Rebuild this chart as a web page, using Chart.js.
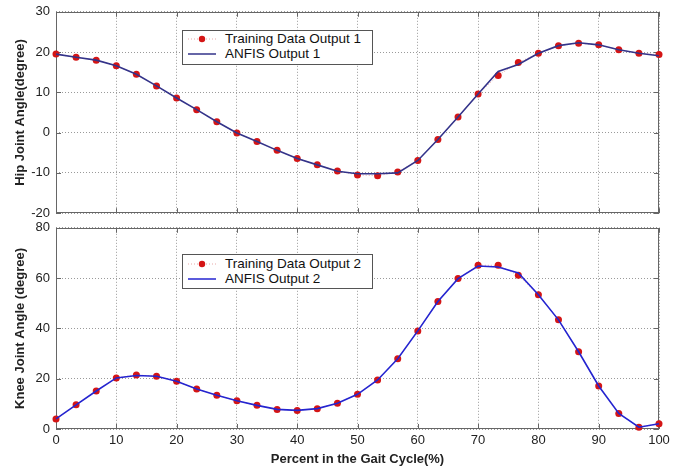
<!DOCTYPE html>
<html>
<head>
<meta charset="UTF-8">
<title>Hip and Knee Joint Angle</title>
<script src="https://cdn.jsdelivr.net/npm/chart.js"></script>
<style>
    body { margin: 0; background: #fff; width: 680px; height: 468px; overflow: hidden; position: relative;
           font-family: "Liberation Sans", Arial, sans-serif; }
    .panel { position: absolute; left: 0; width: 680px; }
    #topPanel { top: -2px; height: 229px; }
    #botPanel { top: 214px; height: 254px; }
    .legend { position: absolute; left: 182px; width: 189px; height: 33px; border: 1px solid #555;
              background: #fff; font-size: 13.5px; color: #111; }
    .legend .row { position: absolute; left: 0; height: 16px; line-height: 16px; white-space: nowrap; }
    .legend svg { position: absolute; left: 4px; top: 0; }
    .legend span { position: absolute; left: 42px; top: 0; }
</style>
</head>
<body>
<div class="panel" id="topPanel"><canvas id="hipChart"></canvas></div>
<div class="panel" id="botPanel"><canvas id="kneeChart"></canvas></div>

<div class="legend" style="top:30px">
    <div class="row" style="top:0px">
        <svg width="30" height="16"><line x1="1" y1="8" x2="29" y2="8" stroke="#e8a8a8" stroke-dasharray="1,2"/><circle cx="15" cy="8" r="3.2" fill="#d41515"/></svg>
        <span>Training Data Output 1</span>
    </div>
    <div class="row" style="top:15px">
        <svg width="30" height="16"><line x1="1" y1="8" x2="29" y2="8" stroke="#33338a" stroke-width="1.5"/></svg>
        <span>ANFIS Output 1</span>
    </div>
</div>
<div class="legend" style="top:254px">
    <div class="row" style="top:1px">
        <svg width="30" height="16"><line x1="1" y1="8" x2="29" y2="8" stroke="#e8a8a8" stroke-dasharray="1,2"/><circle cx="15" cy="8" r="3.2" fill="#d41515"/></svg>
        <span>Training Data Output 2</span>
    </div>
    <div class="row" style="top:16px">
        <svg width="30" height="16"><line x1="1" y1="8" x2="29" y2="8" stroke="#2424d0" stroke-width="1.5"/></svg>
        <span>ANFIS Output 2</span>
    </div>
</div>

<script>
// percent of gait cycle (31 samples)
const percent = [0, 3.33, 6.67, 10, 13.33, 16.67, 20, 23.33, 26.67, 30, 33.33, 36.67, 40, 43.33, 46.67,
                 50, 53.33, 56.67, 60, 63.33, 66.67, 70, 73.33, 76.67, 80, 83.33, 86.67, 90, 93.33, 96.67, 100];

const hipTraining = [19.5, 18.7, 18.0, 16.6, 14.5, 11.6, 8.6, 5.7, 2.7, -0.1, -2.2, -4.4, -6.4, -8.0, -9.5,
                     -10.5, -10.7, -9.8, -6.9, -1.7, 3.9, 9.6, 14.2, 17.4, 19.7, 21.6, 22.2, 21.8, 20.6, 19.7, 19.4];
const hipAnfis = [19.5, 18.7, 18.0, 16.6, 14.5, 11.6, 8.6, 5.7, 2.7, -0.1, -2.2, -4.4, -6.4, -8.0, -9.6,
                  -10.2, -10.2, -10.0, -6.9, -1.7, 3.9, 9.6, 15.2, 16.9, 19.7, 21.6, 22.3, 21.8, 20.6, 19.7, 19.1];

const kneeTraining = [4.0, 9.6, 15.1, 20.3, 21.5, 21.0, 19.0, 15.9, 13.4, 11.2, 9.4, 7.8, 7.4, 8.1, 10.2,
                      13.8, 19.5, 27.9, 39.0, 50.7, 59.8, 65.1, 65.1, 61.1, 53.4, 43.4, 30.7, 17.1, 6.2, 0.7, 2.1];
const kneeAnfis = [4.0, 9.6, 15.1, 20.3, 21.3, 21.0, 19.0, 15.9, 13.4, 11.2, 9.4, 7.8, 7.4, 8.1, 10.2,
                   13.8, 19.5, 27.9, 39.0, 50.7, 59.8, 64.8, 64.4, 62.0, 53.4, 43.4, 30.7, 17.1, 6.2, 0.7, 2.1];

const hipRange = { min: -20, max: 30, step: 10 };
const kneeRange = { min: 0, max: 80, step: 20 };

const xyPairs = (ys) => ys.map((v, i) => ({ x: percent[i], y: v }));

// box frame + inward tick marks (matlab style)
const framePlugin = {
    id: 'frame',
    beforeDatasetsDraw(chart) {
        const { ctx, chartArea: a, scales: { x, y } } = chart;
        ctx.save();
        ctx.strokeStyle = '#666';
        ctx.lineWidth = 1;
        ctx.strokeRect(Math.round(a.left) + 0.5, Math.round(a.top) + 0.5,
                       Math.round(a.right - a.left) - 1, Math.round(a.bottom - a.top) - 1);
        ctx.beginPath();
        x.ticks.forEach(t => {
            const px = Math.round(x.getPixelForValue(t.value)) + 0.5;
            ctx.moveTo(px, a.top); ctx.lineTo(px, a.top + 5);
            ctx.moveTo(px, a.bottom); ctx.lineTo(px, a.bottom - 5);
        });
        y.ticks.forEach(t => {
            const py = Math.round(y.getPixelForValue(t.value)) + 0.5;
            ctx.moveTo(a.left, py); ctx.lineTo(a.left + 5, py);
            ctx.moveTo(a.right, py); ctx.lineTo(a.right - 5, py);
        });
        ctx.stroke();
        ctx.restore();
    }
};

const tickFont = { family: '"Liberation Sans", Arial, sans-serif', size: 13 };
const titleFont = { family: '"Liberation Sans", Arial, sans-serif', size: 13, weight: 'bold' };

function makeChart(id, training, anfis, lineColor, range, yTitle, showX) {
    return new Chart(document.getElementById(id), {
        type: 'line',
        data: {
            datasets: [{
                label: 'ANFIS',
                data: xyPairs(anfis),
                borderColor: lineColor,
                borderWidth: 1.6,
                pointRadius: 0,
                tension: 0,
                order: 0,
                clip: false
            }, {
                label: 'Training',
                data: xyPairs(training),
                borderColor: 'rgba(232,160,160,0.9)',
                borderWidth: 1,
                borderDash: [1, 2],
                pointRadius: 3.5,
                pointBackgroundColor: '#d41515',
                pointBorderWidth: 0,
                tension: 0,
                order: 1,
                clip: false
            }]
        },
        options: {
            responsive: true,
            maintainAspectRatio: false,
            animation: false,
            layout: { padding: { top: 0, right: 21, left: 0, bottom: 0 } },
            plugins: { legend: { display: false }, tooltip: { enabled: false } },
            scales: {
                x: {
                    type: 'linear',
                    min: 0, max: 100,
                    ticks: { stepSize: 10, display: showX, color: '#222', font: tickFont, padding: 4 },
                    grid: { color: '#9a9a9a', drawTicks: false },
                    border: { display: false, dash: [1, 2] },
                    title: { display: showX, text: 'Percent in the Gait Cycle(%)', color: '#222',
                             font: titleFont, padding: { top: 0, bottom: 1 } },
                    afterFit(s) { s.height = showX ? 39 : 9; }
                },
                y: {
                    min: range.min, max: range.max,
                    ticks: { stepSize: range.step, color: '#222', font: tickFont, padding: 6 },
                    grid: { color: '#9a9a9a', drawTicks: false },
                    border: { display: false, dash: [1, 2] },
                    title: { display: true, text: yTitle, color: '#222', font: titleFont,
                             padding: { top: 13, bottom: 0 } },
                    afterFit(s) { s.width = 56; }
                }
            }
        },
        plugins: [framePlugin]
    });
}

makeChart('hipChart', hipTraining, hipAnfis, '#33338a', hipRange, 'Hip Joint Angle(degree)', false);
makeChart('kneeChart', kneeTraining, kneeAnfis, '#2424d0', kneeRange, 'Knee Joint Angle (degree)', true);
</script>
</body>
</html>
